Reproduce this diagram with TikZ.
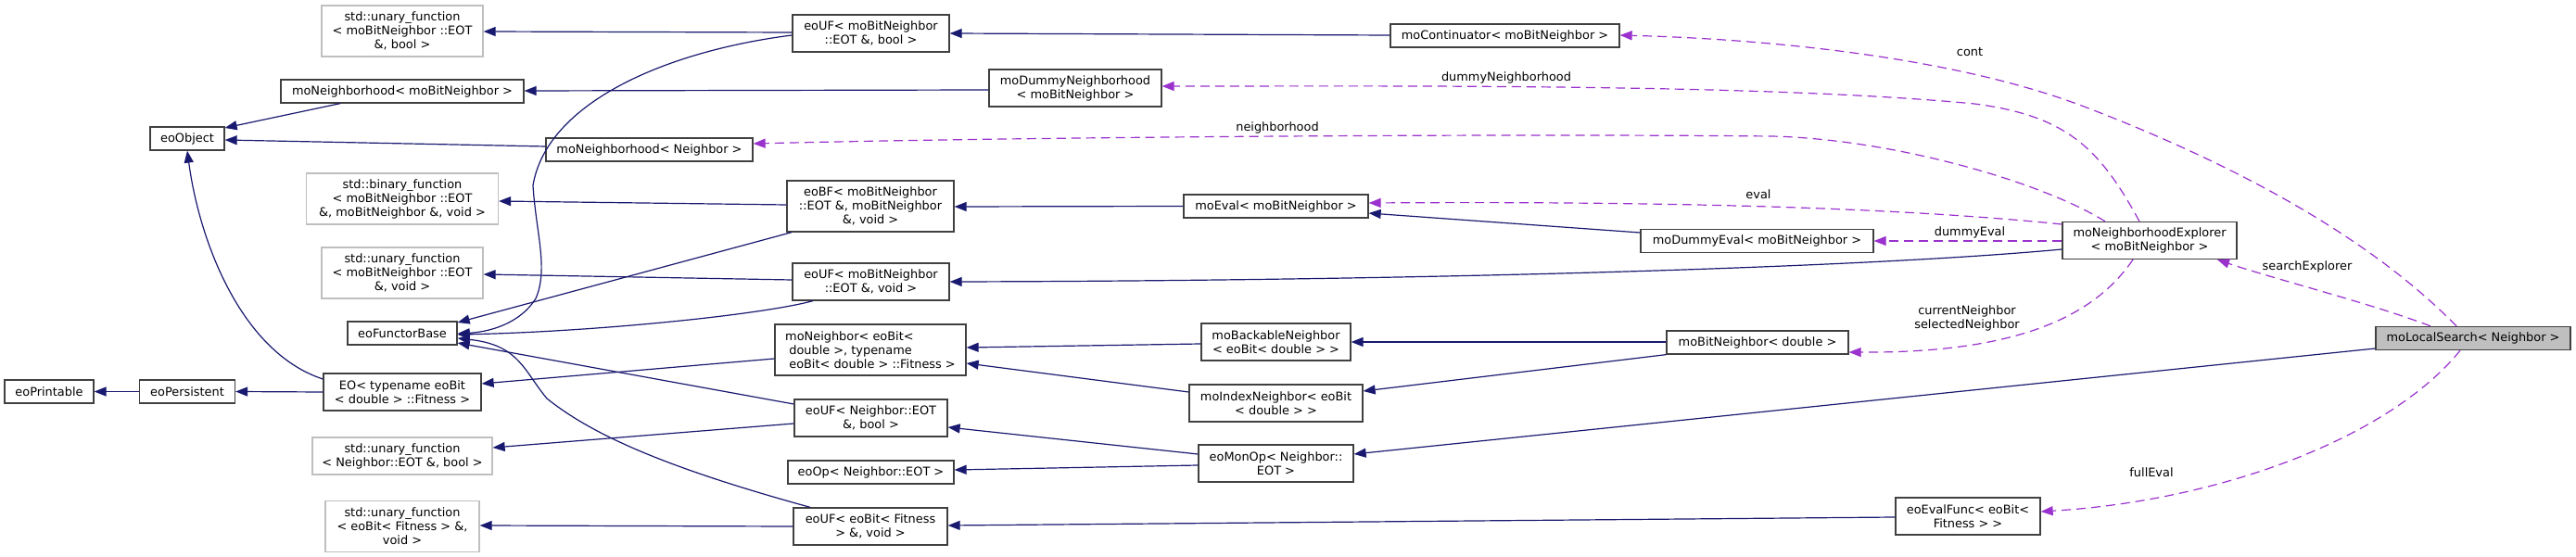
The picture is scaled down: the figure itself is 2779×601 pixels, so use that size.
\documentclass[tikz,border=0pt]{standalone}
\usepackage{fontspec}
\setmainfont{DejaVu Sans}
\usetikzlibrary{arrows.meta}
\definecolor{inhc}{HTML}{191970}
\definecolor{usec}{HTML}{9A32CD}
\definecolor{bordc}{HTML}{404040}
\definecolor{greyc}{HTML}{BFBFBF}
\tikzset{
  nd/.style={draw=bordc, line width=1.3pt, fill=white, inner sep=0pt, align=center,
             font=\fontsize{12.9}{15}\selectfont, text=black},
  gnd/.style={nd, draw=greyc},
  cur/.style={nd, fill=greyc},
  inh/.style={draw=inhc, line width=1.2pt, -{Triangle[length=13pt,width=10pt]}},
  use/.style={draw=usec, line width=1.2pt, dash pattern=on 10pt off 6pt, -{Triangle[length=13pt,width=10pt]}},
  lbl/.style={inner sep=0pt, align=center, font=\fontsize{12.9}{15}\selectfont, text=black},
}
\begin{document}
\begin{tikzpicture}[x=1pt, y=-1pt]
\fill[white] (0,0) rectangle (2779,601);
\useasboundingbox (0,0) rectangle (2779,601);

% column 1
\node[nd, minimum width=96pt, minimum height=25pt] (eoPrintable) at (53,422.5) {eoPrintable};
% column 2
\node[nd, minimum width=103pt, minimum height=25pt] (eoPersistent) at (202,422.5) {eoPersistent};
\node[nd, minimum width=80pt, minimum height=25pt] (eoObject) at (202,149.5) {eoObject};
% column 3
\node[gnd, minimum width=174pt, minimum height=55pt] (SUFbool) at (434,33.5) {std::unary\_function\\< moBitNeighbor ::EOT\\\&, bool >};
\node[nd, minimum width=262pt, minimum height=25pt] (moNbhMbn) at (434,98.5) {moNeighborhood< moBitNeighbor >};
\node[gnd, minimum width=207pt, minimum height=55pt] (SBF) at (434,214.5) {std::binary\_function\\< moBitNeighbor ::EOT\\\&, moBitNeighbor \&, void >};
\node[gnd, minimum width=174pt, minimum height=55pt] (SUFvoid) at (434,294.5) {std::unary\_function\\< moBitNeighbor ::EOT\\\&, void >};
\node[nd, minimum width=118pt, minimum height=25pt] (eoFB) at (434,359.5) {eoFunctorBase};
\node[nd, minimum width=170pt, minimum height=40pt] (EO) at (434,423) {EO< typename eoBit\\< double > ::Fitness >};
\node[gnd, minimum width=194pt, minimum height=40pt] (SUFNbool) at (434,492) {std::unary\_function\\< Neighbor::EOT \&, bool >};
\node[gnd, minimum width=166pt, minimum height=55pt] (SUFeoBit) at (434,568) {std::unary\_function\\< eoBit< Fitness > \&,\\void >};
% moNeighborhood< Neighbor >
\node[nd, minimum width=223pt, minimum height=25pt] (moNbhN) at (700.5,161.5) {moNeighborhood< Neighbor >};
% column 4
\node[nd, minimum width=169pt, minimum height=40pt] (eoUFbool) at (939.5,36) {eoUF< moBitNeighbor\\::EOT \&, bool >};
\node[nd, minimum width=180pt, minimum height=55pt] (eoBF) at (939,222.5) {eoBF< moBitNeighbor\\::EOT \&, moBitNeighbor\\\&, void >};
\node[nd, minimum width=169pt, minimum height=40pt] (eoUFvoid) at (939.5,304) {eoUF< moBitNeighbor\\::EOT \&, void >};
\node[nd, minimum width=206pt, minimum height=55pt, align=left] (moNeighbor) at (939,377.5) {moNeighbor< eoBit<\\\ double >, typename\\\ eoBit< double > ::Fitness >};
\node[nd, minimum width=165pt, minimum height=40pt] (eoUFNbool) at (939.5,451) {eoUF< Neighbor::EOT\\\&, bool >};
\node[nd, minimum width=179pt, minimum height=25pt] (eoOp) at (939.5,509.5) {eoOp< Neighbor::EOT >};
\node[nd, minimum width=166pt, minimum height=40pt] (eoUFeoBit) at (939,568) {eoUF< eoBit< Fitness\\> \&, void >};
% others
\node[nd, minimum width=186pt, minimum height=40pt] (moDummyNbh) at (1160,95) {moDummyNeighborhood\\< moBitNeighbor >};
\node[nd, minimum width=199pt, minimum height=25pt] (moEval) at (1376.5,222.5) {moEval< moBitNeighbor >};
\node[nd, minimum width=161pt, minimum height=40pt] (moBackable) at (1376.5,369) {moBackableNeighbor\\< eoBit< double > >};
\node[nd, minimum width=187pt, minimum height=40pt] (moIndex) at (1376.5,435) {moIndexNeighbor< eoBit\\< double > >};
\node[nd, minimum width=167pt, minimum height=40pt] (eoMonOp) at (1376.5,500) {eoMonOp< Neighbor::\\EOT >};
\node[nd, minimum width=247pt, minimum height=25pt] (moContinuator) at (1623.5,38.5) {moContinuator< moBitNeighbor >};
\node[nd, minimum width=251pt, minimum height=25pt] (moDummyEval) at (1895.5,260) {moDummyEval< moBitNeighbor >};
\node[nd, minimum width=196pt, minimum height=25pt] (moBitNd) at (1896,369.5) {moBitNeighbor< double >};
\node[nd, minimum width=156pt, minimum height=40pt] (eoEvalFunc) at (2123,557) {eoEvalFunc< eoBit<\\Fitness > >};
\node[nd, minimum width=188pt, minimum height=40pt] (moNbhExp) at (2319,259.5) {moNeighborhoodExplorer\\< moBitNeighbor >};
\node[cur, minimum width=210pt, minimum height=25pt] (moLocalSearch) at (2668,365) {moLocalSearch< Neighbor >};

% inheritance edges
\draw[inh] (eoPersistent.west) -- (eoPrintable.east);
\draw[inh] (EO.west) -- (eoPersistent.east);
\draw[inh] (EO.west |- 0,409) .. controls (260,380) and (215,260) .. (eoObject.south);
\draw[inh] (367,0 |- moNbhMbn.south) -- (eoObject.east |- 0,138);
\draw[inh] (moNbhN.west |- 0,158) -- (eoObject.east |- 0,151);
\draw[inh] (moDummyNbh.west |- 0,97) -- (moNbhMbn.east |- 0,98);
\draw[inh] (eoUFbool.west |- 0,35) -- (SUFbool.east |- 0,34);
\draw[inh] (eoUFbool.west |- 0,38) .. controls (720,55) and (590,110) .. (575,200) .. controls (578,250) and (592,290) .. (578,322) .. controls (562,348) and (530,358) .. (eoFB.east |- 0,360);
\draw[inh] (eoBF.west |- 0,221) -- (SBF.east |- 0,217);
\draw[inh] (854,0 |- eoBF.south) -- (eoFB.east |- 0,348);
\draw[inh] (eoUFvoid.west |- 0,302) -- (SUFvoid.east |- 0,296);
\draw[inh] (877,0 |- eoUFvoid.south) .. controls (820,340) and (640,358) .. (eoFB.east |- 0,361);
\draw[inh] (moNeighbor.west |- 0,387) -- (EO.east |- 0,414);
\draw[inh] (eoUFNbool.west |- 0,436) -- (eoFB.east |- 0,370);
\draw[inh] (eoUFNbool.west |- 0,457) -- (SUFNbool.east |- 0,483);
\draw[inh] (874,0 |- eoUFeoBit.north) .. controls (720,505) and (640,470) .. (590,430) .. controls (565,400) and (560,372) .. (eoFB.east |- 0,365);
\draw[inh] (eoUFeoBit.west) -- (SUFeoBit.east |- 0,567);
\draw[inh] (moContinuator.west |- 0,38) -- (eoUFbool.east |- 0,36);
\draw[inh] (moEval.west) -- (eoBF.east |- 0,223);
\draw[inh] (moDummyEval.west |- 0,251) -- (moEval.east |- 0,230);
\draw[inh] (moNbhExp.west |- 0,269) .. controls (2000,290) and (1500,303) .. (eoUFvoid.east |- 0,304);
\draw[inh] (moBackable.west |- 0,371) -- (moNeighbor.east |- 0,375);
\draw[inh] (moIndex.west |- 0,423) -- (moNeighbor.east |- 0,392);
\draw[inh] (moBitNd.west |- 0,369) -- (moBackable.east |- 0,369);
\draw[inh] (moBitNd.south west) -- (moIndex.east |- 0,422);
\draw[inh] (moLocalSearch.west |- 0,376) -- (eoMonOp.east |- 0,490);
\draw[inh] (eoMonOp.west |- 0,490) -- (eoUFNbool.east |- 0,461);
\draw[inh] (eoMonOp.west |- 0,502) -- (eoOp.east |- 0,507);
\draw[inh] (eoEvalFunc.west |- 0,558) -- (eoUFeoBit.east |- 0,567);

% usage edges
\draw[use] (2271,0 |- moNbhExp.north) .. controls (2200,195) and (2040,150) .. (1911,147) .. controls (1600,144) and (1100,148) .. (moNbhN.east |- 0,155);
\draw[use] (2650,0 |- moLocalSearch.north) .. controls (2560,260) and (2420,180) .. (2243,113) .. controls (2100,60) and (1900,42) .. (moContinuator.east |- 0,38);
\draw[use] (2308,0 |- moNbhExp.north) .. controls (2265,160) and (2230,125) .. (2130,112) .. controls (1900,90) and (1500,93) .. (moDummyNbh.east |- 0,93);
\draw[use] (moNbhExp.west |- 0,242) .. controls (2050,224) and (1800,217) .. (moEval.east |- 0,219);
\draw[use] (moNbhExp.west |- 0,260) -- (moDummyEval.east |- 0,260);
\draw[use] (2301,0 |- moNbhExp.south) .. controls (2260,340) and (2180,381) .. (moBitNd.east |- 0,380);
\draw[use] (2622,0 |- moLocalSearch.north) .. controls (2560,328) and (2450,300) .. (2392,0 |- moNbhExp.south);
\draw[use] (2654,0 |- moLocalSearch.south) .. controls (2580,470) and (2400,540) .. (eoEvalFunc.east |- 0,552);

% edge labels
\node[lbl] (lcont) at (2125,56) {cont};
\node[lbl] (ldnbh) at (1625,84) {dummyNeighborhood};
\node[lbl] (lnbh) at (1378,138) {neighborhood};
\node[lbl] (leval) at (1897,210) {eval};
\node[lbl] (ldeval) at (2125,251) {dummyEval};
\node[lbl] (lcursel) at (2122,343) {currentNeighbor\\selectedNeighbor};
\node[lbl] (lsexp) at (2489,288) {searchExplorer};
\node[lbl] (lfull) at (2321,510) {fullEval};
\end{tikzpicture}
\end{document}
